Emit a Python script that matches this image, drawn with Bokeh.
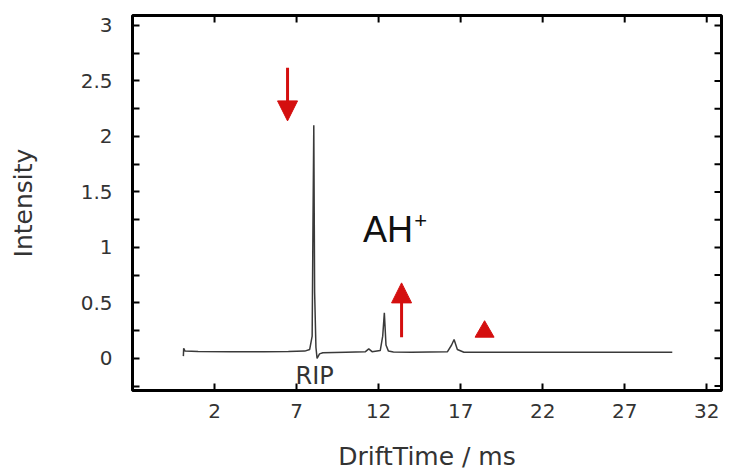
import math
from bokeh.plotting import figure
from bokeh.models import Range1d, FixedTicker, Arrow, NormalHead
from bokeh.core.properties import value
from bokeh.embed import file_html
from bokeh.resources import INLINE

# ---- data ----
drift_time = [0.10, 0.12, 0.20, 1.0, 3.0, 5.0, 6.5, 7.5, 7.80, 7.95, 8.00, 8.05, 8.10, 8.18, 8.25, 8.40,
              8.60, 10.0, 11.2, 11.4, 11.6, 12.1, 12.25, 12.35, 12.45, 12.6, 12.9, 14.0, 16.2, 16.45,
              16.60, 16.80, 17.2, 20.0, 22.0, 26.0, 29.9]
intensity = [0.02, 0.09, 0.065, 0.062, 0.060, 0.060, 0.062, 0.065, 0.08, 0.20, 1.20, 2.10, 0.60, 0.10, 0.00, 0.04,
             0.05, 0.055, 0.060, 0.085, 0.060, 0.070, 0.20, 0.41, 0.12, 0.065, 0.058, 0.055, 0.060, 0.12,
             0.17, 0.08, 0.055, 0.055, 0.055, 0.055, 0.055]

x_ticks = [2, 7, 12, 17, 22, 27, 32]
y_ticks = [0, 0.5, 1, 1.5, 2, 2.5, 3]
y_minor = [-0.25, 0.25, 0.75, 1.25, 1.75, 2.25, 2.75]

X_MIN, X_MAX = -3, 32.9
Y_MIN, Y_MAX = -0.29, 3.09

# arrows: (x, y_start, y_end)
arrow_x = [6.45, 13.4]
arrow_y_start = [2.62, 0.19]
arrow_y_end = [2.14, 0.68]
marker_x = [18.46]
marker_y = [0.24]

labels_text = ["RIP"]
labels_x = [8.1]
labels_y = [-0.155]
ion_text = ["AH"]
ion_x = [11.05]
ion_y = [1.16]
ion_sup_text = ["+"]
ion_sup_x = [14.17]
ion_sup_y = [1.24]

RED = "#d40f0f"
FONT = "DejaVu Sans"
FRAME_W, FRAME_H = 589, 375
TICK = 7

p = figure(frame_width=FRAME_W, frame_height=FRAME_H, min_border_left=132, min_border_right=6,
           min_border_top=15, min_border_bottom=71,
           x_range=Range1d(X_MIN, X_MAX), y_range=Range1d(Y_MIN, Y_MAX),
           output_backend="svg", toolbar_location=None,
           x_axis_label="DriftTime / ms", y_axis_label="Intensity")
p.grid.visible = False
p.background_fill_color = "white"
p.border_fill_color = "white"
p.outline_line_color = "black"
p.outline_line_width = 3
p.outline_line_alpha = 1.0

p.line(drift_time, intensity, line_color="#3a3a3a", line_width=1.5)

for xs, ys, ye in zip(arrow_x, arrow_y_start, arrow_y_end):
    p.add_layout(Arrow(end=NormalHead(size=20, fill_color=RED, line_color=RED, line_width=1),
                       x_start=xs, y_start=ys, x_end=xs, y_end=ye,
                       line_color=RED, line_width=3))

p.scatter(marker_x, marker_y, marker="triangle", size=19, fill_color=RED, line_color=RED)

p.text(labels_x, labels_y, text=labels_text, text_font=value(FONT), text_font_size="24px",
       text_align="center", text_baseline="alphabetic", text_color="#333333")
p.text(ion_x, ion_y, text=ion_text, text_font=value("Liberation Sans"), text_font_size="36px",
       text_align="left", text_baseline="alphabetic", text_color="#111111")
p.text(ion_sup_x, ion_sup_y, text=ion_sup_text, text_font=value("Liberation Sans"), text_font_size="22px",
       text_align="left", text_baseline="alphabetic", text_color="#111111")

# mirror ticks on top and right edges, pointing inward
half_px_x = (TICK / 2) * (X_MAX - X_MIN) / FRAME_W
half_px_y = (TICK / 2) * (Y_MAX - Y_MIN) / FRAME_H
p.scatter(x_ticks, [Y_MAX - half_px_y] * len(x_ticks), marker="dash", size=TICK, angle=math.pi / 2,
          line_color="black", line_width=2)
p.scatter([X_MAX - half_px_x] * (len(y_ticks) + len(y_minor)), y_ticks + y_minor, marker="dash", size=TICK,
          line_color="black", line_width=2)

# main axes
xa = p.xaxis[0]
ya = p.yaxis[0]
xa.ticker = FixedTicker(ticks=x_ticks, minor_ticks=[])
ya.ticker = FixedTicker(ticks=y_ticks, minor_ticks=y_minor)
ya.major_label_overrides = {0: "0"}

for ax in (xa, ya):
    ax.axis_line_color = None
    ax.major_tick_in = TICK
    ax.major_tick_out = 0
    ax.minor_tick_in = TICK
    ax.minor_tick_out = 0
    ax.major_tick_line_width = 2
    ax.minor_tick_line_width = 2
    ax.major_tick_line_color = "black"
    ax.minor_tick_line_color = "black"
    ax.major_label_text_font = FONT
    ax.major_label_text_font_size = "20px"
    ax.major_label_text_color = "#333333"
    ax.axis_label_text_font = FONT
    ax.axis_label_text_font_size = "25px"
    ax.axis_label_text_font_style = "normal"
    ax.axis_label_text_color = "#333333"

xa.major_label_standoff = 13
xa.axis_label_standoff = 21
ya.major_label_standoff = 20
ya.axis_label_standoff = 40

open("out.html", "w").write(file_html(p, INLINE))
